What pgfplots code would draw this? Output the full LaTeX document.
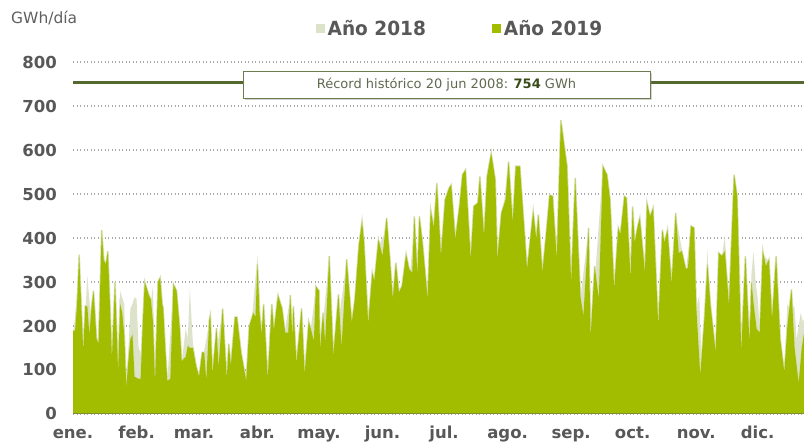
\documentclass[border=0pt]{standalone}
\usepackage{pgfplots}
\pgfplotsset{compat=1.18}
\usepackage{pgfplotstable}
\usepackage{fontspec}
\setmainfont{DejaVu Sans}
\newfontfamily\legfont{DejaVu Sans}[FakeStretch=0.95]
\usetikzlibrary{shadows}
\definecolor{green19}{RGB}{162,188,0}
\definecolor{pale18}{RGB}{221,226,203}
\definecolor{halo}{RGB}{214,225,178}
\definecolor{tickgray}{RGB}{88,88,88}
\definecolor{titlegray}{RGB}{95,95,95}
\definecolor{gridgray}{RGB}{170,170,170}
\definecolor{recgreen}{RGB}{84,104,48}
\definecolor{boxborder}{RGB}{110,125,80}
\definecolor{boxtext}{RGB}{95,105,80}
\definecolor{boldgreen}{RGB}{55,75,25}
\definecolor{baseol}{RGB}{125,145,45}

\pgfplotstableread{
x y
0 190
1 188
2 250
3 362
4 250
5 142
6 246
7 244
8 180
9 240
10 280
11.5 170
12.5 160
13.5 330
14 418
15 350
16 340
17 370
18 250
19 125
20.5 300
22 95
23 250
24 230
25 180
26 60
27 120
28 170
29 180
30 85
31 82
32 80
33 80
34 200
35 300
36 285
37 270
38 260
39 210
40 70
41.5 300
42.5 310
43.5 250
44 240
45 150
46 75
47.5 80
49 295
50.5 280
52 200
53 120
54 125
55 130
56 155
57 150
58.5 150
60 110
61.5 85
63 140
64 140
65 75
66.5 215
67 225
68 90
70 195
71 105
73 240
75 80
76 160
77 110
79 220
80 220
82 140
84.5 75
86 200
88 230
89 220
90 340
91 230
92 180
93 250
95 80
97 250
98 190
100 270
102 240
103.5 185
105 185
106 270
107 175
107.5 245
109 115
111.5 240
113 90
115 210
116.5 185
117.5 165
118.5 290
120 280
120.5 148
122 230
123 162
125 359
127 132
129.5 272
131 151
133.5 352
136 208
137.5 261
139.5 385
141 438
142 389
144 204
146 321
147 302
149 396
151 359
153 446
154.5 359
156 261
157.5 344
159 276
160.5 291
162.5 363
164 329
165.5 321
166.5 449
168 317
169 449
170.5 389
173 261
174.5 464
176 423
177.5 525
179.5 359
181.5 487
183.5 514
184.5 521
186.5 397
188.5 472
190 544
191.5 555
194 351
195.5 472
197.5 480
198.5 540
200.5 404
202 540
204 593
206 532
207 351
209 457
211 487
212.5 574
214.5 434
216 563
218 563
220 430
221.5 329
224.5 461
226 397
227 453
229 321
231 419
232.5 498
234 495
236 351
238 668
239.5 615
241 563
243 298
245 536
247.5 268
249 223
251.5 423
252.5 174
254.5 336
256.5 261
258.5 563
260.5 544
262 487
264 283
266 423
267 408
269 495
270 491
272 306
273 472
274 389
275.5 427
276.5 446
279 321
280 480
281.5 449
283 468
285.5 200
287.5 419
288.5 389
290 419
292 295
294 457
295.5 366
297 370
299 329
300 332
301.5 427
303 423
304 246
306 87
308 215
309.5 340
311 246
313.5 140
315 366
316.5 359
318 370
320 246
322.5 544
324 495
326 140
328 359
330 162
331 300
332 250
333.5 193
335 185
336.5 370
338 336
339.5 351
341 215
343 359
345 170
347 95
348.5 200
350.5 283
352 150
354 70
355.5 150
356.5 180
358 190
}\dataB

\pgfplotstableread{
x y
0 170
3 330
5 140
7 315
9 200
10 250
12 150
14 400
16 330
17 360
19 120
20.5 290
22 90
23 280
25 250
26 50
28 240
29 250
30 265
31 262
32 150
33 140
34 100
35 290
38 255
39 290
40 70
42.5 300
46 75
49 290
53 115
55 195
56 170
57 285
58.5 160
61.5 80
67 220
68 85
73 235
75 75
80 215
84.5 70
90 360
92 170
95 75
100 265
103 180
106 265
109 110
113 85
118.5 285
120.5 140
125 355
127 125
133.5 345
136 200
141 400
144 190
149 380
153 420
156 250
159 260
162.5 340
164 300
166.5 430
168 300
169 440
173 250
177.5 510
179.5 350
181.5 470
183.5 500
184.5 510
186.5 390
188.5 460
190 530
191.5 550
194 345
198.5 535
200.5 395
204 590
207 345
212.5 570
214.5 428
216 560
221.5 325
224.5 455
229 315
232.5 495
236 345
238 665
243 292
245 530
247.5 262
251.5 418
252.5 170
258.5 560
264 278
269 490
272 300
276.5 440
279 315
283 462
285.5 195
290 415
292 290
294 452
299 325
301.5 422
304 240
305.5 270
306.5 130
307 95
308 215
309.5 375
310.5 250
313.5 135
316.5 355
318 405
320 240
322.5 540
326 135
328 355
330 155
331 320
332 370
333 300
334 265
335 195
336.5 365
339.5 345
341 210
343 355
345 165
347 90
348.5 250
349.5 240
350.5 280
351 250
352 240
353 170
354 200
355 230
356 210
358 230
}\dataA

\begin{document}
\begin{tikzpicture}[x=1pt,y=1pt]
\useasboundingbox (0,0) rectangle (804,443);
\begin{axis}[
  at={(73pt,29pt)}, anchor=south west,
  scale only axis, width=731pt, height=352pt,
  xmin=0, xmax=356.6, ymin=0, ymax=800,
  axis line style={draw=none},
  major tick length=0pt,
  tick style={draw=none},
  ytick={0,100,...,800},
  ymajorgrids,
  grid style={gridgray, line width=1.1pt, dash pattern=on 1.1pt off 2.4pt},
  xtick={0,31,59,90,120,151,181,212,243,273,304,334},
  xticklabels={ene.,feb.,mar.,abr.,may.,jun.,jul.,ago.,sep.,oct.,nov.,dic.},
  /pgf/number format/assume math mode=true,
  ticklabel style={font=\bfseries\fontsize{16.5}{18}\selectfont, text=tickgray},
  xticklabel style={anchor=base, yshift=-25pt},
  yticklabel style={anchor=east, inner sep=0pt, xshift=-16pt},
  legend columns=2,
  legend style={at={(axis description cs:0.528,1.094)}, anchor=center,
    draw=none, fill=none, text=tickgray,
    font=\legfont\bfseries\fontsize{19.5}{21}\selectfont,
    nodes={inner sep=0pt}, column sep=3pt,
    /tikz/every even column/.append style={column sep=66pt}},
  legend image code/.code={\fill (0pt,-4.5pt) rectangle (9pt,4.5pt);},
]
\addplot[fill=pale18, draw=none] table[x=x,y=y] {\dataA} \closedcycle;
\addlegendentry{Año 2018}
\addplot[draw=halo, line width=1.6pt, forget plot] table[x=x,y=y] {\dataB};
\addplot[fill=green19, draw=none] table[x=x,y=y] {\dataB} \closedcycle;
\addlegendentry{Año 2019}
\addplot[baseol, line width=2.5pt, forget plot] coordinates {(0,0) (356.6,0)};
\addplot[recgreen, line width=3pt, forget plot] coordinates {(0,754) (356.6,754)};
\node[fill=white, draw=boxborder, line width=0.8pt, minimum width=407pt, minimum height=27pt,
  drop shadow={shadow xshift=2pt, shadow yshift=-2pt, opacity=0.35},
  font=\fontsize{13}{15}\selectfont, text=boxtext]
  at (axis cs:182.2,749) {Récord histórico 20 jun 2008: \textbf{\textcolor{boldgreen}{754}} GWh};
\end{axis}
\node[anchor=west, font=\fontsize{15.5}{17}\selectfont, text=titlegray, inner sep=0pt] at (11,425) {GWh/día};
\end{tikzpicture}
\end{document}
